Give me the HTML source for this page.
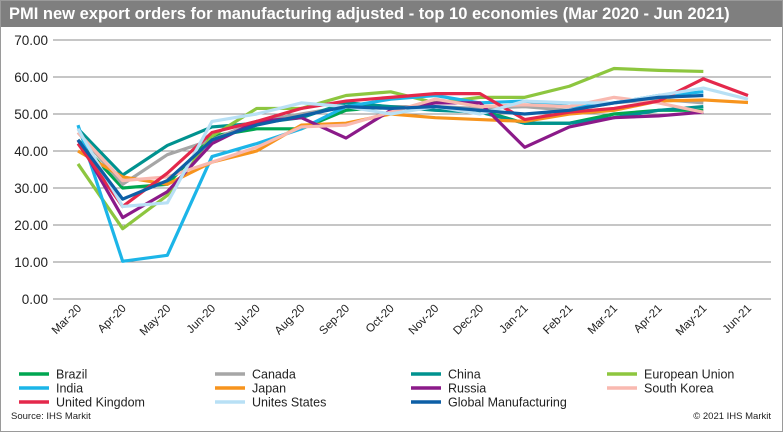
<!DOCTYPE html>
<html><head><meta charset="utf-8"><style>
body{margin:0;background:#fff;font-family:"Liberation Sans",Arial,sans-serif}
#wrap{position:relative;width:781px;height:430px;border:1px solid #9a9a9a;overflow:hidden}
#title{position:absolute;left:0;top:0;width:781px;height:26px;background:#7f7f7f;color:#fff;font-weight:bold;font-size:16.5px;line-height:26px;padding-left:8px;box-sizing:border-box;white-space:nowrap}
svg{position:absolute;left:0;top:0}
</style></head><body>
<div id="wrap">
<div id="title">PMI new export orders for manufacturing adjusted - top 10 economies (Mar 2020 - Jun 2021)</div>
<svg id="chart" width="781" height="430"></svg>
</div>
<script>
const categories=["Mar-20","Apr-20","May-20","Jun-20","Jul-20","Aug-20","Sep-20","Oct-20","Nov-20","Dec-20","Jan-21","Feb-21","Mar-21","Apr-21","May-21","Jun-21"];
const yTicks=[0,10,20,30,40,50,60,70];
const seriesNames=["Brazil","Canada","China","European Union","India","Japan","Russia","South Korea","United Kingdom","Unites States","Global Manufacturing"];
const seriesColors=["#00a651","#a6a6a6","#00928f","#8dc63f","#1cb5e8","#f7941d","#8b1a89","#f9b9b0","#e4284b","#b8e0f5","#0d5fa6"];
const brazil=[43,30,31,44,46,46,51,52,52,51,47.5,47.5,50,51,51,null];
const canada=[45,31,39,43,48,50,52,52,52,51.5,52,51,53,54,53,null];
const china=[46,33.5,41.5,46.5,47.5,49,53,52,51,50.5,47.5,47.5,49,51,52,null];
const eu=[36.5,19,28,44,51.5,51.5,55,56,53,54.5,54.5,57.5,62.3,61.8,61.5,null];
const india=[47,10.2,11.8,38.5,42,46,52,54,55,53,53.5,52,53,55,56,null];
const japan=[40,33,31,37,40,47,47.5,50,49,48.5,48,50,51,53.5,53.8,53.1];
const russia=[43,22,29,42,48,49,43.5,51,53,53,41,46.5,49,49.5,50.5,null];
const korea=[45,32,33,37,41,46.5,47,50.5,54,52,52.5,52,54.5,53,50.5,null];
const uk=[42,25,34,45,48,51.5,53.5,54.5,55.5,55.5,48.5,50.5,51.5,53.5,59.5,55];
const us=[46,25,26,48,50,53,52,50,52,50,53.5,53,53,55,57,54];
const globalMfg=[43,27,32,43,47,49.5,52,51.5,52,51,50,51,53,54.5,55,null];
const seriesData=[brazil,canada,china,eu,india,japan,russia,korea,uk,us,globalMfg];
const NS="http://www.w3.org/2000/svg";
const svg=document.getElementById('chart');
const L=52,R=770,T=39,B=298;
const x=i=>77+i*(747-77)/(categories.length-1);
const y=v=>B-(v/70)*(B-T);
function mk(t,a){const e=document.createElementNS(NS,t);for(const k in a)e.setAttribute(k,a[k]);svg.appendChild(e);return e;}
yTicks.forEach(v=>{
 const g=mk('line',{x1:L,x2:R,y1:y(v),y2:y(v),stroke:'#8c8c8c','stroke-width':1});
 
 
 const t=mk('text',{x:47,y:y(v)+5,'text-anchor':'end','font-size':13.5,fill:'#222'});
 t.textContent=v.toFixed(2);
 
 
});
categories.forEach((c,i)=>{
 const t=mk('text',{x:x(i)+4,y:308,'text-anchor':'end','font-size':11.5,fill:'#222',transform:`rotate(-45 ${x(i)+4} 308)`});
 t.textContent=c;
 
 
});
seriesData.forEach((d,s)=>{
 let p='';d.forEach((v,i)=>{if(v!==null)p+=(p?'L':'M')+x(i)+' '+y(v);});
 const e=mk('path',{d:p,fill:'none',stroke:seriesColors[s],'stroke-width':3.2,'stroke-linejoin':'round'});
 
 
});
const colX=[18,214,410,606],rowY=[373,387,401];
seriesNames.forEach((n,i)=>{
 const cx=colX[i%4],cy=rowY[Math.floor(i/4)];
 const l=mk('line',{x1:cx,x2:cx+30,y1:cy,y2:cy,stroke:seriesColors[i],'stroke-width':3.5});
 
 
 const t=mk('text',{x:cx+37,y:cy+4.5,'font-size':12.5,fill:'#222'});
 t.textContent=n;
 
 
});
const s1=mk('text',{x:10,y:418,'font-size':9.5,fill:'#222'});s1.textContent='Source: IHS Markit';


const s2=mk('text',{x:770,y:418,'font-size':9.5,fill:'#222','text-anchor':'end'});s2.textContent='© 2021 IHS Markit';


</script>
</body></html>
